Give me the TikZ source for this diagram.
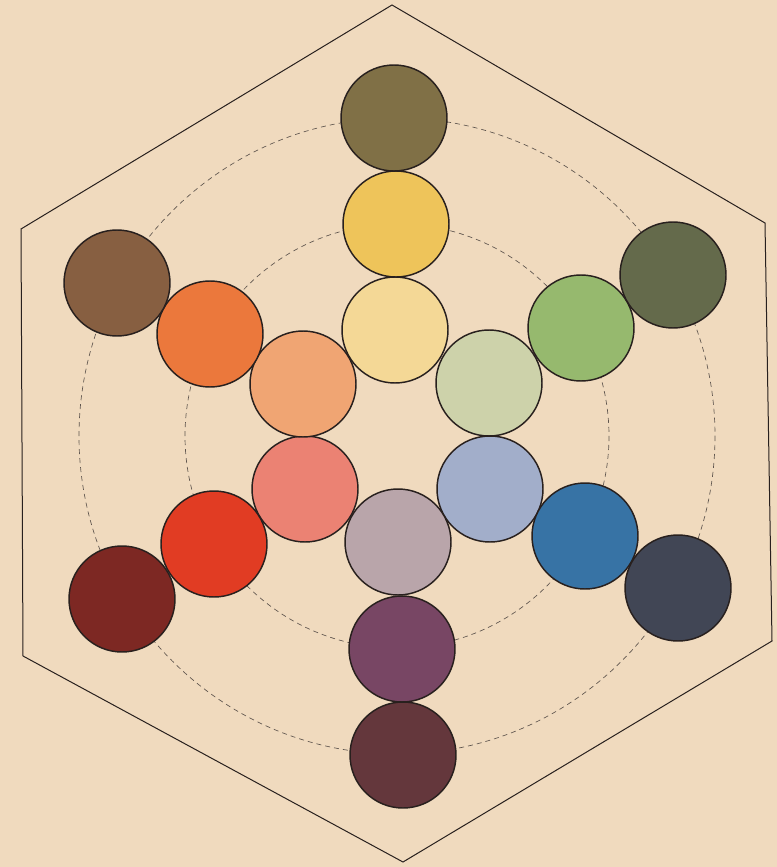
\documentclass[tikz,border=0pt]{standalone}
\usepackage{tikz}

\definecolor{paper}{RGB}{240,218,190}
\definecolor{ink}{RGB}{40,32,30}
\definecolor{guide}{RGB}{95,85,78}
\definecolor{olivetop}{RGB}{128,112,70}
\definecolor{yellowmid}{RGB}{238,196,90}
\definecolor{yellowpale}{RGB}{244,216,150}
\definecolor{greenpale}{RGB}{205,210,170}
\definecolor{greenmid}{RGB}{150,185,110}
\definecolor{greendark}{RGB}{100,106,75}
\definecolor{bluepale}{RGB}{162,174,202}
\definecolor{bluemid}{RGB}{55,115,165}
\definecolor{bluedark}{RGB}{65,70,85}
\definecolor{violetpale}{RGB}{185,165,170}
\definecolor{violetmid}{RGB}{120,70,100}
\definecolor{violetdark}{RGB}{100,55,60}
\definecolor{redpale}{RGB}{235,130,115}
\definecolor{redmid}{RGB}{225,60,35}
\definecolor{reddark}{RGB}{125,40,35}
\definecolor{orangepale}{RGB}{240,165,115}
\definecolor{orangemid}{RGB}{235,120,60}
\definecolor{orangedark}{RGB}{135,95,65}

\tikzset{every picture/.style={line width=0.75pt}}
\tikzset{disc/.style={draw=ink, line width=1.1}}
\tikzset{ring/.style={draw=guide, line width=0.5, dash pattern={on 3.75pt off 3pt}}}

\begin{document}
\begin{tikzpicture}[x=0.75pt,y=0.75pt,yscale=-1,xscale=1]
\path [fill=paper] (0,0) rectangle (777,867) ;
\useasboundingbox (0,0) rectangle (777,867) ;

%Shape: Hexagon [id:hexframe]
\draw [color=ink, line width=0.75] (392,5) -- (765,223) -- (772,641) -- (403,862) -- (23,656) -- (21,229) -- cycle ;

%Shape: Circle [id:ringmid]
\draw [ring] (397,436) circle (212) ;
%Shape: Circle [id:ringout]
\draw [ring] (397,436) circle (318) ;

%Shape: Circle [id:yellowpale]
\draw [disc, fill=yellowpale] (395,330) circle (53) ;
%Shape: Circle [id:yellowmid]
\draw [disc, fill=yellowmid] (396,224) circle (53) ;
%Shape: Circle [id:olivetop]
\draw [disc, fill=olivetop] (394,118) circle (53) ;

%Shape: Circle [id:greenpale]
\draw [disc, fill=greenpale] (489,383) circle (53) ;
%Shape: Circle [id:greenmid]
\draw [disc, fill=greenmid] (581,328) circle (53) ;
%Shape: Circle [id:greendark]
\draw [disc, fill=greendark] (673,275) circle (53) ;

%Shape: Circle [id:bluepale]
\draw [disc, fill=bluepale] (490,489) circle (53) ;
%Shape: Circle [id:bluemid]
\draw [disc, fill=bluemid] (585,536) circle (53) ;
%Shape: Circle [id:bluedark]
\draw [disc, fill=bluedark] (678,588) circle (53) ;

%Shape: Circle [id:violetpale]
\draw [disc, fill=violetpale] (398,542) circle (53) ;
%Shape: Circle [id:violetmid]
\draw [disc, fill=violetmid] (402,649) circle (53) ;
%Shape: Circle [id:violetdark]
\draw [disc, fill=violetdark] (403,755) circle (53) ;

%Shape: Circle [id:redpale]
\draw [disc, fill=redpale] (305,489) circle (53) ;
%Shape: Circle [id:redmid]
\draw [disc, fill=redmid] (214,544) circle (53) ;
%Shape: Circle [id:reddark]
\draw [disc, fill=reddark] (122,599) circle (53) ;

%Shape: Circle [id:orangepale]
\draw [disc, fill=orangepale] (303,384) circle (53) ;
%Shape: Circle [id:orangemid]
\draw [disc, fill=orangemid] (210,334) circle (53) ;
%Shape: Circle [id:orangedark]
\draw [disc, fill=orangedark] (117,283) circle (53) ;

\end{tikzpicture}
\end{document}
